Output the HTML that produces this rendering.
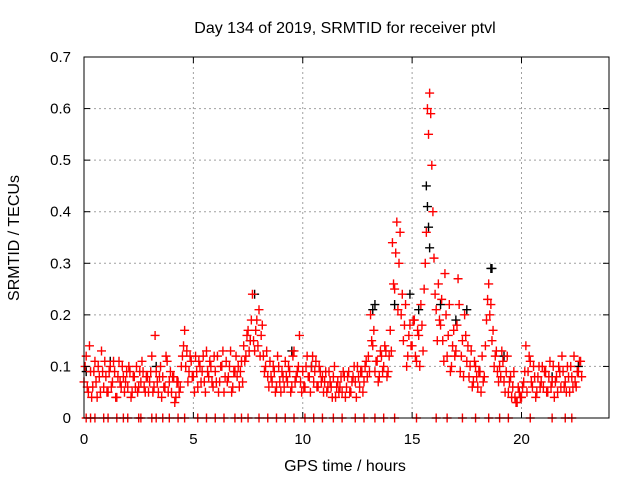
<!DOCTYPE html>
<html><head><meta charset="utf-8"><style>
html,body{margin:0;padding:0;background:#fff;}
svg{display:block;font-family:"Liberation Sans",sans-serif;}
</style></head><body>
<svg id="c" width="640" height="480" viewBox="0 0 640 480">
<rect width="640" height="480" fill="#fff"/>
<text x="345" y="33" font-size="16" text-anchor="middle">Day 134 of 2019, SRMTID for receiver ptvl</text>
<text x="345" y="471" font-size="16" text-anchor="middle">GPS time / hours</text>
<text transform="translate(19,238) rotate(-90)" font-size="16" text-anchor="middle">SRMTID / TECUs</text>
<g id="grid"></g><g id="marks"></g><g id="axes"></g>
</svg>
<script>
const xTicks=[0,5,10,15,20];
const yTicks=[0,0.1,0.2,0.3,0.4,0.5,0.6,0.7];
const yTickLabels=["0","0.1","0.2","0.3","0.4","0.5","0.6","0.7"];
const redA=[0.07,0.12,0.05,0.09,0.06,0.11,0.04,0.08,0.13,0.06,
0.08,0.05,0.10,0.07,0.09,0.04,0.11,0.06,0.08,0.07,
0.06,0.09,0.05,0.08,0.10,0.06,0.07,0.09,0.05,0.08,
0.07,0.12,0.06,0.09,0.05,0.10,0.08,0.06,0.11,0.07,
0.05,0.08,0.04,0.07,0.06,0.12,0.17,0.13,0.09,0.11,
0.08,0.12,0.06,0.10,0.09,0.07,0.13,0.08,0.10,0.06,
0.09,0.12,0.07,0.10,0.05,0.11,0.08,0.13,0.06,0.09,
0.08,0.06,0.11,0.14,0.12,0.17,0.15,0.24,0.13,0.19,
0.21,0.16,0.12,0.10,0.08,0.11,0.07,0.09,0.06,0.10,
0.05,0.08,0.11,0.07,0.09,0.06,0.13,0.08,0.10,0.07,
0.09,0.06,0.12,0.08,0.10,0.07,0.11,0.06,0.09,0.08,
0.07,0.05,0.09,0.06,0.08,0.04,0.07,0.06,0.05,0.08,
0.06,0.09,0.05,0.08,0.07,0.10,0.06,0.09,0.07,0.11,
0.12,0.20,0.14,0.09,0.11,0.08,0.12,0.10,0.13,0.09,
0.17,0.34,0.25,0.38,0.30,0.20,0.15,0.22,0.12,0.18,
0.14,0.19,0.11,0.16,0.22,0.13,0.30,0.60,0.63,0.49,
0.31,0.21,0.26,0.18,0.15,0.28,0.12,0.22,0.10,0.17,
0.13,0.27,0.09,0.15,0.20,0.11,0.08,0.13,0.07,0.10,
0.06,0.09,0.12,0.08,0.19,0.26,0.22,0.17,0.12,0.09,
0.10,0.13,0.07,0.09,0.05,0.08,0.06,0.04,0.03,0.05,
0.04,0.07,0.14,0.09,0.11,0.06,0.08,0.05,0.10,0.07,
0.06,0.09,0.05,0.11,0.07,0.04,0.08,0.10,0.06,0.09,
0.07,0.10,0.05,0.08,0.12,0.06,0.09,0.11];
const redB=[0.10,0.06,0.14,0.04,0.09,0.07,0.10,0.05,0.09,0.11,
0.05,0.09,0.06,0.11,0.04,0.08,0.07,0.10,0.05,0.09,
0.10,0.04,0.08,0.06,0.05,0.09,0.11,0.06,0.08,0.05,
0.09,0.05,0.16,0.07,0.08,0.04,0.06,0.12,0.05,0.09,
0.08,0.03,0.07,0.05,0.10,0.14,0.10,0.07,0.12,0.08,
0.05,0.09,0.11,0.07,0.12,0.05,0.09,0.11,0.07,0.12,
0.07,0.05,0.10,0.13,0.08,0.07,0.10,0.05,0.09,0.12,
0.10,0.09,0.07,0.11,0.16,0.13,0.19,0.15,0.17,0.14,
0.12,0.18,0.09,0.13,0.06,0.08,0.10,0.05,0.12,0.07,
0.09,0.06,0.08,0.10,0.05,0.12,0.07,0.09,0.16,0.05,
0.06,0.10,0.08,0.05,0.12,0.09,0.06,0.10,0.07,0.05,
0.09,0.06,0.07,0.04,0.10,0.06,0.05,0.08,0.09,0.04,
0.08,0.05,0.07,0.10,0.04,0.08,0.09,0.05,0.10,0.08,
0.09,0.15,0.17,0.11,0.07,0.13,0.09,0.14,0.08,0.12,
0.13,0.26,0.32,0.21,0.36,0.24,0.18,0.10,0.16,0.14,
0.19,0.12,0.17,0.10,0.18,0.25,0.36,0.55,0.59,0.40,
0.24,0.15,0.19,0.23,0.11,0.20,0.16,0.09,0.14,0.12,
0.18,0.22,0.12,0.08,0.16,0.14,0.10,0.06,0.11,0.08,
0.09,0.05,0.07,0.14,0.23,0.20,0.15,0.10,0.13,0.07,
0.08,0.11,0.05,0.12,0.07,0.04,0.09,0.03,0.06,0.04,
0.06,0.09,0.05,0.12,0.07,0.10,0.04,0.08,0.06,0.10,
0.09,0.05,0.08,0.06,0.10,0.07,0.05,0.09,0.12,0.06,
0.05,0.08,0.10,0.06,0.07,0.09,0.11,0.08];
const blackT=[0.1,1.2,3.3,7.6,7.8,9.5,10.4,13.2,13.3,14.2,14.9,15.3,15.65,15.7,15.75,15.8,16.3,17.0,17.5,18.6,18.65,19.2,21.4,22.6];
const blackV=[0.09,0.11,0.10,0.15,0.24,0.13,0.10,0.21,0.22,0.22,0.24,0.21,0.45,0.41,0.37,0.33,0.22,0.19,0.21,0.29,0.29,0.12,0.08,0.10];
const zeroT=[0.1,0.3,0.5,0.9,1.1,1.5,1.8,2.0,2.5,2.6,3.1,3.3,3.6,3.9,4.3,4.6,5.2,5.6,6.0,6.4,6.9,7.2,7.5,8.0,8.4,8.8,9.2,9.6,10.1,10.5,10.9,11.4,11.8,12.4,12.8,13.3,13.7,14.2,15.2,16.1,16.6,17.3,17.9,18.5,19.0,19.4,20.4,21.4,22.0,22.3];
const X=v=>84+v*(609-84)/24;
const Y=v=>418-v*(418-57)/0.7;
const NS="http://www.w3.org/2000/svg";
function mk(t,a,p){const e=document.createElementNS(NS,t);for(const k in a)e.setAttribute(k,a[k]);p.appendChild(e);return e;}
const grid=document.getElementById('grid'),marks=document.getElementById('marks'),axes=document.getElementById('axes');
xTicks.forEach(v=>{
 if(v>0){const l=mk('line',{x1:X(v),x2:X(v),y1:57,y2:418,stroke:'#a0a0a0','stroke-dasharray':'2,3'},grid);
 
 }
 const t=mk('text',{x:X(v),y:444,'font-size':15,'text-anchor':'middle'},axes);t.textContent=v;
 
 
 mk('line',{x1:X(v),x2:X(v),y1:418,y2:412,stroke:'#000'},axes);
 mk('line',{x1:X(v),x2:X(v),y1:57,y2:63,stroke:'#000'},axes);
});
yTicks.forEach((v,i)=>{
 if(v>0&&v<0.7){const l=mk('line',{x1:84,x2:609,y1:Y(v),y2:Y(v),stroke:'#a0a0a0','stroke-dasharray':'2,3'},grid);
 
 }
 const t=mk('text',{x:71,y:Y(v)+5,'font-size':15,'text-anchor':'end'},axes);t.textContent=yTickLabels[i];
 
 
 mk('line',{x1:84,x2:90,y1:Y(v),y2:Y(v),stroke:'#000'},axes);
 mk('line',{x1:609,x2:603,y1:Y(v),y2:Y(v),stroke:'#000'},axes);
});
const fr=mk('rect',{x:84,y:57,width:525,height:361,fill:'none',stroke:'#000'},axes);


function plus(t,v,col,name){
 const x=X(t),y=Y(v);
 const p=mk('path',{d:`M${x-4.5} ${y}h9M${x} ${y-4.5}v9`,stroke:col,'stroke-width':1.4,fill:'none'},marks);
 
 
}
blackT.forEach((t,i)=>plus(t,blackV[i],'#000','black-point'));
redA.forEach((v,i)=>plus(i*0.1,v,'#f00','red-point'));
redB.forEach((v,i)=>plus(i*0.1+0.05,v,'#f00','red-point'));
zeroT.forEach(t=>plus(t,0,'#f00','zero-point'));
</script>
</body></html>
